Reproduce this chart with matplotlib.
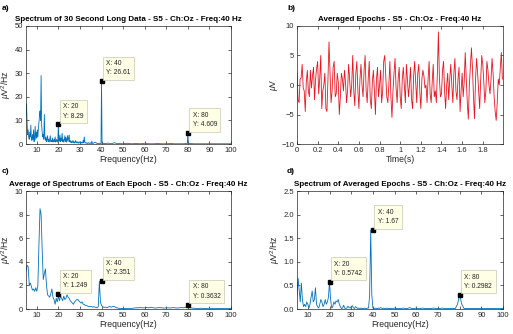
import numpy as np
import matplotlib
matplotlib.use("Agg")
import matplotlib.pyplot as plt

plt.rcParams['font.family'] = ['Liberation Sans', 'DejaVu Sans']
plt.rcParams['mathtext.fontset'] = 'custom'
plt.rcParams['mathtext.rm'] = 'Liberation Sans'
plt.rcParams['mathtext.it'] = 'Liberation Sans:italic'

# ---- data ----
# a) spectrum of 30 s data, 0.25 Hz grid from 5 to 36 Hz
psd_a_low = [12, 17, 9, 4, 6, 3, 2, 5, 3, 8, 2, 1.5, 4, 2, 6, 1,
             3, 7.5, 2, 5, 2.5, 6, 3, 7, 9, 12, 14, 10, 29, 8, 5, 3,
             4, 2, 12.5, 3, 1.5, 3, 1, 2, 3.5, 1, 2, 0.8, 2, 3.5, 1, 1.5,
             1, 2.5, 0.8, 1.2, 2, 1, 3, 0.8, 1.2, 2, 0.8, 1.5,
             8.29, 1, 2, 3.8, 1, 2.5, 1.5, 4.5, 1, 2, 0.8, 1.5,
             3.5, 1, 2.8, 0.8, 2, 3.6, 1, 2.5, 3.8, 1, 1.5, 0.6,
             1.2, 0.5, 0.8, 1.5, 0.5, 1, 0.4, 0.8, 1.5, 0.5, 0.6, 1,
             0.4, 0.8, 0.3, 0.6, 1, 0.4, 0.5, 0.8, 0.3, 0.6, 1.5, 0.5,
             3, 0.8, 0.4, 0.6, 0.3, 0.5, 0.2, 0.4, 0.6, 0.3, 0.2, 0.5,
             0.3, 0.2, 1.2, 0.3, 0.2]
freq_a_tail = [37, 38, 39, 39.75, 40, 40.25, 41, 42, 43, 44, 45, 46, 47, 48,
               50, 52, 54, 56, 58, 60, 62, 64, 66, 68, 70, 72, 74, 76, 78,
               79, 79.75, 80, 80.25, 81, 83, 85, 88, 91, 94, 97, 100]
psd_a_tail = [0.8, 0.2, 0.3, 0.2, 26.61, 0.2, 0.3, 0.2, 0.4, 0.1, 0.2, 0.6, 0.1, 0.2,
              0.1, 0.3, 0.1, 0.2, 0.1, 0.3, 0.1, 0.1, 0.2, 0.1, 0.1, 0.2, 0.1, 0.1, 0.1,
              0.2, 0.1, 4.609, 0.1, 0.2, 0.1, 0.1, 0.1, 0.1, 0.1, 0.1, 0.1]

# b) averaged epoch, 0.01 s grid
volt_b = [2, -2.5, -3, 1, 1.2, 3.5, -0.5, -1, -4.5, 0.5,
          2.5, -1, -2, 2.5, -0.5, 1.5, 3, -2.5, 1, 2.8,
          4, -1.5, 1, 5, -4, -1, 0, 2, -4, -4.5,
          1, 7.3, 2, -3, -1, 3, 4, -2, -1.5, 2,
          0.5, -5, -2, 2, 1, -1, 2.5, 0.5, -3, -1,
          3.5, 1, -2, 0, 5, -1, -3.5, 2, 4, -1,
          -4, 1, 3.5, 0, -2, 2.5, 5, -1, -3, 1,
          4, -2.5, -4, 0.5, 2.5, -1, -5, 1, 3, -2,
          0, 2.5, -3, -1, 4, 5, 1.5, -2, -3, 0,
          4, -2, -5.5, -1, 2, 4.5, -0.5, -3, 1, 3,
          -2, -4, 1, 3, 0, -3, 3.5, 1, -2, 0,
          3, -2.5, -4, 1.5, 4, 0.5, -3, 2, 3.5, -1,
          -4, 1, 2.5, 1.5, -0.5, 0, -3, 1, 4, -1.5,
          -3, 0.5, 3.5, -2, -1, -3, 2, 9, 1, -2,
          -1.5, 2.5, 4, -1, -4, 0, 2, -2.5, 1, 3.5,
          0, -3, 2, 4.5, -1, -2.5, 1, 3, -4.5, -1,
          2, -2, 0.5, 5.5, 1, -3, -5.8, 0, 3, 6.3,
          3, -2, -5.7, 1, 4.5, 2, -1, -4, 1, 5,
          3.5, 0.5, -3, -1, 4, 2.5, 0, -1.5, 1, 4.5,
          2, -2, -4.5, -6, -3, 1, 0, 3, 5.5, 1]

# c) average of epoch spectra: 0.5 Hz grid 5-47.5, then 1 Hz grid 48-100
psd_c_low = [3.2, 3.7, 3.6, 2.0, 2.2, 1.9, 1.6, 1.7, 1.5, 1.8,
             1.5, 2.0, 5.5, 8.5, 8.0, 5.0, 2.5, 3.0, 3.4, 2.0,
             1.2, 1.1, 1.0, 1.3, 1.7, 1.0, 0.8, 0.4, 0.9, 0.6,
             1.1, 0.7, 1.1, 0.9, 0.7, 1.1, 0.8, 0.9, 1.2, 1.0,
             0.9, 0.7, 0.6, 0.5, 0.4, 0.6, 0.7, 0.8, 0.8, 0.7,
             0.6, 0.5, 0.6, 0.4, 0.4, 0.3, 0.3, 0.25, 0.2, 0.2,
             0.2, 0.2, 0.15, 0.2, 0.15, 0.15, 0.1, 0.2, 2.35, 0.6,
             0.3, 0.2, 0.15, 0.15, 0.15, 0.1, 0.15, 0.2, 0.2, 0.15,
             0.2, 0.2, 0.2, 0.15, 0.1, 0.1]
psd_c_tail = [0.05, 0.05, 0.04, 0.05, 0.05, 0.06, 0.05, 0.08, 0.1, 0.1,
              0.12, 0.1, 0.1, 0.12, 0.1, 0.15, 0.1, 0.08, 0.1, 0.12,
              0.1, 0.08, 0.1, 0.1, 0.08, 0.12, 0.1, 0.08, 0.1, 0.12,
              0.1, 0.15, 0.2, 0.1, 0.08, 0.06, 0.05, 0.05, 0.06, 0.05,
              0.04, 0.05, 0.06, 0.05, 0.04, 0.04, 0.05, 0.04, 0.04, 0.03,
              0.04, 0.03, 0.04]

# d) spectrum of averaged epochs: same grids as c)
psd_d_low = [0.3, 0.65, 0.4, 0.15, 0.55, 0.2, 0.05, 0.1, 0.05, 0.15,
             0.1, 0.02, 0.1, 0.25, 0.38, 0.15, 0.2, 0.45, 0.1, 0.05,
             0.02, 0.1, 0.2, 0.15, 0.05, 0.1, 0.2, 0.1, 0.15, 0.25,
             0.5742, 0.2, 0.02, 0.05, 0.15, 0.1, 0.17, 0.15, 0.2, 0.1,
             0.05, 0.01, 0.02, 0.08, 0.02, 0.01, 0.02, 0.06, 0.03, 0.02,
             0.05, 0.07, 0.03, 0.01, 0.05, 0.03, 0.01, 0.02, 0.01, 0.02,
             0.01, 0.01, 0.02, 0.01, 0.01, 0.02, 0.02, 0.3, 1.67, 0.3,
             0.02, 0.01, 0.02, 0.01, 0.01, 0.02, 0.01, 0.03, 0.02, 0.01,
             0.02, 0.01, 0.01, 0.02, 0.01, 0.01]
psd_d_tail = [0.01, 0.01, 0.02, 0.01, 0.01, 0.01, 0.02, 0.01, 0.01, 0.03,
              0.01, 0.01, 0.02, 0.01, 0.01, 0.02, 0.01, 0.01, 0.01, 0.01,
              0.02, 0.01, 0.01, 0.01, 0.02, 0.01, 0.01, 0.01, 0.01, 0.01,
              0.01, 0.1, 0.2982, 0.1, 0.01, 0.01, 0.01, 0.01, 0.01, 0.01,
              0.01, 0.01, 0.01, 0.01, 0.01, 0.01, 0.01, 0.01, 0.01, 0.01,
              0.01, 0.01, 0.01]

tips_a = [(20, 8.29), (40, 26.61), (80, 4.609)]
tips_c = [(20, 1.249), (40, 2.351), (80, 0.3632)]
tips_d = [(20, 0.5742), (40, 1.67), (80, 0.2982)]

freq_a = np.concatenate([np.arange(5, 36.01, 0.25), freq_a_tail])
freq_cd = np.concatenate([np.arange(5, 47.51, 0.5), np.arange(48, 100.5, 1)])
time_b = np.arange(len(volt_b)) * 0.01

BLUE = '#0072BD'
TITLE = ' - S5 - Ch:Oz - Freq:40 Hz'
PSD_LABEL = r'$\mu$V$^2$/Hz'
TXT = '#262626'

fig = plt.figure(figsize=(5.13, 3.34), dpi=100)


def style(ax):
    ax.tick_params(direction='in', top=True, right=True, length=2.5, width=0.5,
                   labelsize=5.5, colors=TXT, pad=2)
    for s in ax.spines.values():
        s.set_linewidth(0.5)
        s.set_color(TXT)


def add_tip(ax, x, y, fmt_y):
    ax.plot([x], [y], 's', color='k', ms=2.2)
    ax.annotate(f'X: {x}\nY: {fmt_y}', (x, y), xytext=(3.5, 3.5), textcoords='offset points',
                ha='left', va='bottom', fontsize=4.8, linespacing=1.5, color='#222222',
                bbox=dict(boxstyle='square,pad=0.5', fc='#FFFFE6', ec='#C8C8B4', lw=0.5))


def labels(ax, xlabel, ylabel, title):
    ax.set_xlabel(xlabel, fontsize=6.2, labelpad=1, color=TXT)
    ax.set_ylabel(ylabel, fontsize=6.2, labelpad=1, color=TXT)
    ax.set_title(title, fontsize=5.8, fontweight='bold', pad=3.5)


def spectrum_axes(rect, freq, psd, ylim, yticks, title, tips):
    ax = fig.add_axes(rect)
    ax.plot(freq, psd, color=BLUE, lw=0.6)
    ax.set_xlim(5, 100)
    ax.set_ylim(*ylim)
    ax.set_xticks(range(10, 101, 10))
    ax.set_yticks(yticks)
    labels(ax, 'Frequency(Hz)', PSD_LABEL, title)
    style(ax)
    for x, y in tips:
        add_tip(ax, x, y, f'{y:g}')
    return ax


L1, W1 = 26 / 513, 205 / 513
L2, W2 = 297 / 513, 206 / 513
H = 118 / 334
B_top = 1 - 144 / 334
B_bot = 1 - 309 / 334

spectrum_axes([L1, B_top, W1, H], freq_a, psd_a_low + psd_a_tail, (0, 50), range(0, 51, 10),
              'Spectrum of 30 Second Long Data' + TITLE, tips_a)

ax_b = fig.add_axes([L2, B_top, W2, H])
ax_b.plot(time_b, volt_b, color='#E8141E', lw=0.6)
ax_b.set_xlim(0, 1.996)
ax_b.set_ylim(-10, 10)
ax_b.set_xticks(np.arange(0, 1.81, 0.2))
ax_b.set_xticklabels(['0', '0.2', '0.4', '0.6', '0.8', '1', '1.2', '1.4', '1.6', '1.8'])
ax_b.set_yticks([-10, -5, 0, 5, 10])
labels(ax_b, 'Time(s)', r'$\mu$V', 'Averaged Epochs' + TITLE)
style(ax_b)

spectrum_axes([L1, B_bot, W1, H], freq_cd, psd_c_low + psd_c_tail, (0, 10), range(0, 11, 2),
              'Average of Spectrums of Each Epoch' + TITLE, tips_c)
spectrum_axes([L2, B_bot, W2, H], freq_cd, psd_d_low + psd_d_tail, (0, 2.5),
              [0, 0.5, 1, 1.5, 2, 2.5], 'Spectrum of Averaged Epochs' + TITLE, tips_d)

for lab, x, y in [('a)', 2, 8), ('b)', 287, 8), ('c)', 2, 172), ('d)', 287, 172)]:
    fig.text(x / 513, 1 - y / 334, lab, fontsize=6, fontweight='bold', va='center')

fig.savefig('out.png', dpi=100)
